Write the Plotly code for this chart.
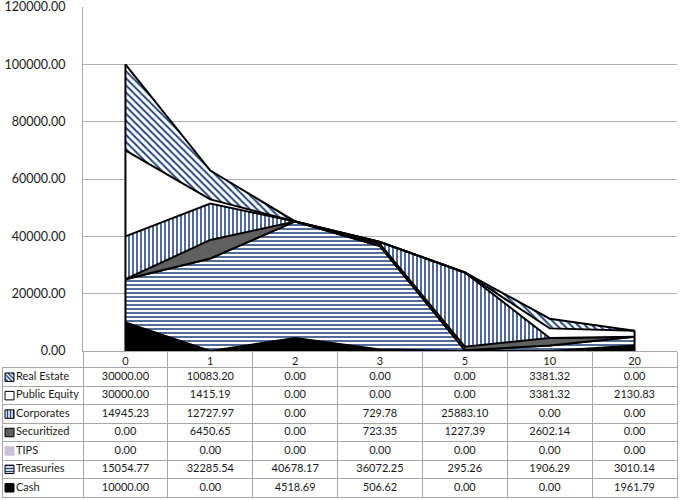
import plotly.graph_objects as go

categories = ["0", "1", "2", "3", "5", "10", "20"]
series_names = ["Real Estate", "Public Equity", "Corporates", "Securitized", "TIPS", "Treasuries", "Cash"]

real_estate = [30000.00, 10083.20, 0.00, 0.00, 0.00, 3381.32, 0.00]
public_equity = [30000.00, 1415.19, 0.00, 0.00, 0.00, 3381.32, 2130.83]
corporates = [14945.23, 12727.97, 0.00, 729.78, 25883.10, 0.00, 0.00]
securitized = [0.00, 6450.65, 0.00, 723.35, 1227.39, 2602.14, 0.00]
tips = [0.00, 0.00, 0.00, 0.00, 0.00, 0.00, 0.00]
treasuries = [15054.77, 32285.54, 40678.17, 36072.25, 295.26, 1906.29, 3010.14]
cash = [10000.00, 0.00, 4518.69, 506.62, 0.00, 0.00, 1961.79]

y_ticks = [0, 20000, 40000, 60000, 80000, 100000, 120000]

# table order (top row first)
series_values = [real_estate, public_equity, corporates, securitized, tips, treasuries, cash]

W, H = 680, 500
BLUE = "#24467f"
GRID = "#b0b0b0"
BORDER = "#a6a6a6"
TXT = "#1a1a1a"
FONT = "Lato"

# fill style per series: (pattern shape, solid colour)
styles = {
    "Real Estate": ("\\", "white"),
    "Public Equity": ("", "white"),
    "Corporates": ("|", "white"),
    "Securitized": ("", "#606060"),
    "TIPS": ("", "#ccc1da"),
    "Treasuries": ("-", "white"),
    "Cash": ("", "black"),
}
pat_size = {"\\": 5, "|": 4, "-": 4, "": 4}

# pixel layout
plot_l, plot_r = 83, 677
plot_t, plot_b = 7, 351
tab_l, tab_t, tab_b = 3, 368, 497
col_w = (plot_r - plot_l) / len(categories)
leg_w = (plot_l - tab_l) / col_w

fig = go.Figure()

# stacked areas, bottom series first
for name, vals in reversed(list(zip(series_names, series_values))):
    shape, col = styles[name]
    kw = dict(fillcolor=col)
    if shape:
        kw["fillpattern"] = dict(shape=shape, fgcolor=BLUE, bgcolor="white",
                                 size=pat_size[shape], solidity=0.4)
    fig.add_trace(go.Scatter(
        x=categories, y=vals, name=name, stackgroup="s", mode="lines",
        line=dict(color="black", width=2), showlegend=False, hoverinfo="skip", **kw
    ))

# closing edges of the stacked area at first and last category
totals = [sum(v[i] for v in series_values) for i in range(len(categories))]
fig.add_trace(go.Scatter(
    x=[categories[0], categories[0], None, categories[-1], categories[-1]],
    y=[0, totals[0], None, 0, totals[-1]],
    mode="lines", line=dict(color="black", width=2), showlegend=False, hoverinfo="skip"
))

# data table values
cell_x, cell_y, cell_t = [], [], []
for r, vals in enumerate(series_values):
    for c, v in enumerate(vals):
        cell_x.append(c)
        cell_y.append(r)
        cell_t.append("%.2f" % v)
fig.add_trace(go.Scatter(
    x=cell_x, y=cell_y, text=cell_t, mode="text", xaxis="x2", yaxis="y2",
    textfont=dict(family=FONT, size=11, color=TXT), showlegend=False, hoverinfo="skip"
))

# legend keys in the table, one bar per row
rows = list(range(len(series_names)))
key_x0 = -0.5 - leg_w + 2 / col_w
key_len = 9 / col_w
for r, name in zip(rows, series_names):
    shape, col = styles[name]
    mk = dict(color=col, line=dict(color="#ccc1da" if name == "TIPS" else "black", width=1))
    if shape:
        mk["pattern"] = dict(shape=shape, fgcolor=BLUE, bgcolor="white", size=3, solidity=0.5)
    fig.add_trace(go.Bar(
        y=[r], x=[key_len], base=[key_x0], orientation="h", width=0.46,
        xaxis="x2", yaxis="y2", showlegend=False, hoverinfo="skip", marker=mk
    ))
fig.add_trace(go.Scatter(
    x=[-0.5 - leg_w + 13 / col_w] * len(rows), y=rows, text=series_names, mode="text",
    textposition="middle right", xaxis="x2", yaxis="y2",
    textfont=dict(family=FONT, size=11, color=TXT), showlegend=False, hoverinfo="skip"
))

x_bounds = [-0.5 - leg_w] + [i - 0.5 for i in range(len(categories) + 1)]
y_bounds = [i - 0.5 for i in range(len(series_names) + 1)]

fig.update_layout(
    width=W, height=H, margin=dict(l=0, r=0, t=0, b=0),
    paper_bgcolor="white", plot_bgcolor="white", template="none",
    font=dict(family=FONT, size=11, color=TXT),
    barmode="overlay",
    xaxis=dict(
        type="category", categoryorder="array", categoryarray=categories,
        range=[-0.5, len(categories) - 0.5], automargin=False,
        domain=[plot_l / W, plot_r / W],
        showgrid=False, zeroline=False, showline=True, linecolor=BORDER, linewidth=1,
        ticks="outside", tickson="boundaries", ticklen=tab_t - plot_b, tickcolor=BORDER, tickwidth=1,
        ticklabelstandoff=0,
        tickfont=dict(family=FONT, size=11, color=TXT),
    ),
    yaxis=dict(
        range=[0, 120000], tickvals=y_ticks, tickformat=".2f", automargin=False,
        domain=[1 - plot_b / H, 1 - plot_t / H], ticklabeloverflow="allow",
        showgrid=True, gridcolor=GRID, gridwidth=1, zeroline=False,
        showline=True, linecolor=BORDER, linewidth=1, ticks="",
        ticklabelstandoff=14,
        tickfont=dict(family=FONT, size=12.5, color=TXT),
    ),
    xaxis2=dict(
        range=[x_bounds[0], x_bounds[-1]], domain=[tab_l / W, plot_r / W], anchor="y2",
        automargin=False, fixedrange=True,
        tickvals=x_bounds, showticklabels=False, ticks="", showgrid=True, gridcolor=BORDER,
        zeroline=False, showline=True, mirror=True, linecolor=BORDER, linewidth=1,
    ),
    yaxis2=dict(
        range=[y_bounds[-1], y_bounds[0]], domain=[1 - tab_b / H, 1 - tab_t / H], anchor="x2",
        automargin=False, fixedrange=True,
        tickvals=y_bounds, showticklabels=False, ticks="", showgrid=True, gridcolor=BORDER,
        zeroline=False, showline=True, mirror=True, linecolor=BORDER, linewidth=1,
    ),
)

fig.write_html("out.html", config={"displayModeBar": False},
               post_script="document.body.style.margin='0';document.body.style.overflow='hidden';")
